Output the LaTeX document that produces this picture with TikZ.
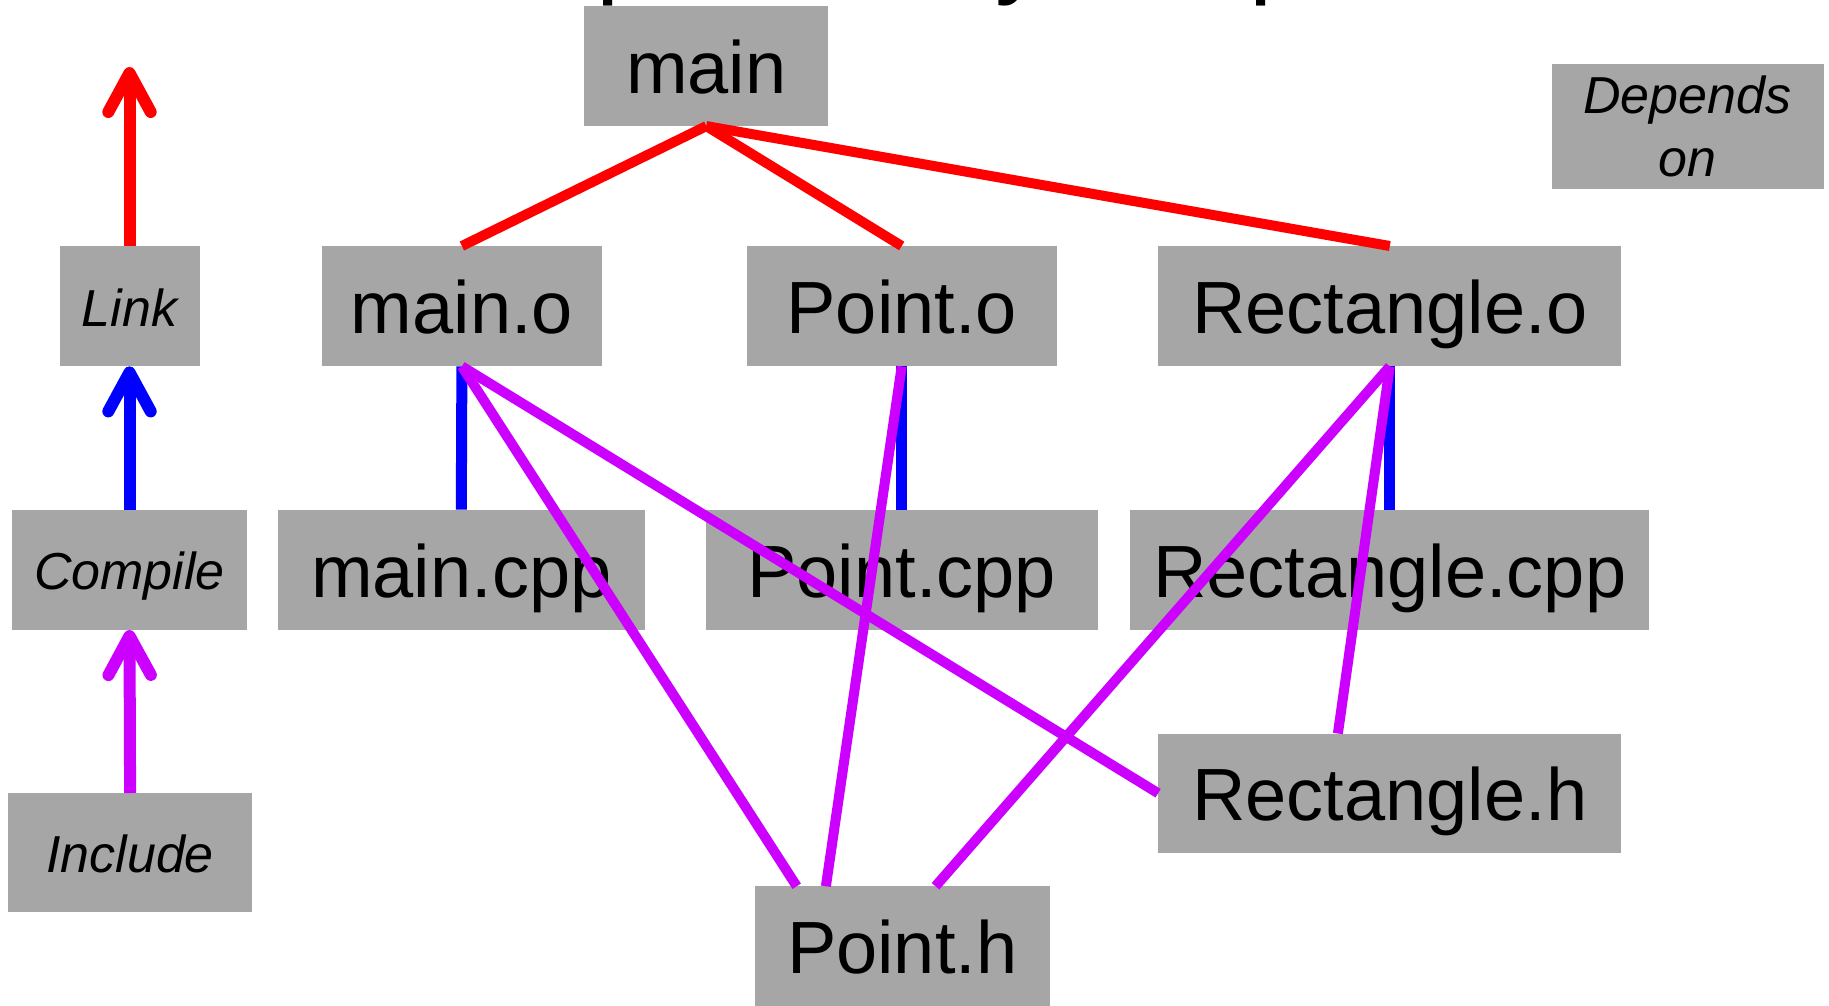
\documentclass[tikz,border=0pt]{standalone}
\usepackage{fontspec}
\setmainfont{Liberation Sans}
\usetikzlibrary{arrows.meta,calc}
\definecolor{boxgray}{RGB}{166,166,166}
\definecolor{linkred}{RGB}{255,0,0}
\definecolor{compblue}{RGB}{0,0,255}
\definecolor{incpurple}{RGB}{204,0,255}
\begin{document}
\begin{tikzpicture}[x=1pt,y=-1pt,
  box/.style={fill=boxgray, inner sep=0pt, minimum height=120pt,
    font=\fontsize{74}{80}\selectfont, text height=54.8pt, text depth=0pt},
  legendbox/.style={fill=boxgray, inner sep=0pt, minimum height=120pt,
    font=\fontsize{52}{63}\selectfont\itshape, text height=40pt, text depth=0pt},
  redline/.style={draw=linkred, line width=10pt},
  blueline/.style={draw=compblue, line width=11pt},
  purpleline/.style={draw=incpurple, line width=10pt},
  legendarrow/.style={line width=12pt, -{Straight Barb[length=39pt,width=42.4pt,round]}}
]
\useasboundingbox (0,0) rectangle (1829,1006);
% title, mostly above the page
\node[anchor=base, inner sep=0pt, font=\fontsize{104}{120}\selectfont] (title) at (914.5,-15) {Dependency Graph};

% graph nodes
\node[box, minimum width=244pt] (main) at (706.3,65.9) {main};
\node[box, minimum width=280pt] (mo) at (461.9,306.2) {main.o};
\node[box, minimum width=310pt] (po) at (901.7,306.2) {Point.o};
\node[box, minimum width=463pt] (ro) at (1389.8,306.2) {Rectangle.o};
\node[box, minimum width=367pt] (mcpp) at (461.3,569.8) {main.cpp};
\node[box, minimum width=392pt] (pcpp) at (901.7,569.8) {Point.cpp};
\node[box, minimum width=519pt] (rcpp) at (1389.8,569.8) {Rectangle.cpp};
\node[box, minimum width=463pt, minimum height=119pt] (rh) at (1389.8,793.2) {Rectangle.h};
\node[box, minimum width=295pt, minimum height=119.5pt] (ph) at (902.2,946.2) {Point.h};

% legend nodes
\node[legendbox, minimum width=140pt] (link) at (129.5,306.2) {Link};
\node[legendbox, minimum width=235.6pt] (compile) at (129.5,569.8) {Compile};
\node[legendbox, minimum width=244pt, minimum height=119pt] (include) at (130.1,852.7) {Include};
\node[fill=boxgray, inner sep=0pt, minimum width=272pt, minimum height=125pt,
  align=center, font=\fontsize{52}{63}\selectfont\itshape] (dep) at (1687.5,126.5) {Depends\\on};

% compile edges
\draw[blueline] (mo.south) -- (mcpp.north);
\draw[blueline] (po.south) -- (pcpp.north);
\draw[blueline] (ro.south) -- (rcpp.north);

% link edges
\draw[redline] (main.south) -- (mo.north);
\draw[redline] (main.south) -- (po.north);
\draw[redline] (main.south) -- (ro.north);

% include edges
\draw[purpleline] (mo.south) -- ($(ph.north)+(-105.5,0)$);
\draw[purpleline] (mo.south) -- (rh.west);
\draw[purpleline] (po.south) -- ($(ph.north)+(-76.3,0)$);
\draw[purpleline] (ro.south) -- ($(ph.north)+(33.3,0)$);
\draw[purpleline] (ro.south) -- ($(rh.north)+(-51.9,0)$);

% legend arrows
\coordinate (linktip) at (129.5,67);
\draw[redline, legendarrow] (link.north) -- (linktip);
\draw[blueline, legendarrow] (compile.north) -- (link.south);
\draw[purpleline, legendarrow] (include.north) -- (compile.south);
\end{tikzpicture}
\end{document}
